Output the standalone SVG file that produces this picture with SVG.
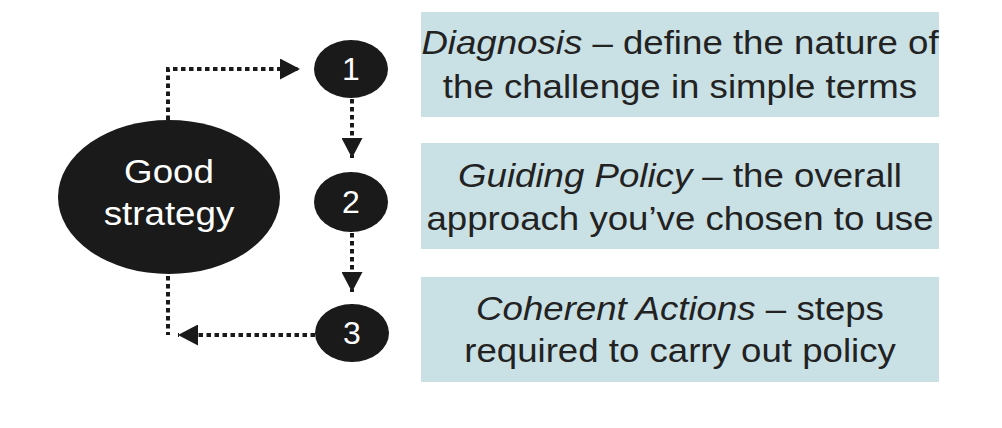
<svg xmlns="http://www.w3.org/2000/svg" width="1002" height="428" viewBox="0 0 1002 428">
<defs>
<marker id="ah" viewBox="0 0 20 21" refX="20" refY="10.5" markerWidth="20" markerHeight="21" markerUnits="userSpaceOnUse" orient="auto">
<path d="M0,0 L20,10.5 L0,21 Z" fill="#1a1a1a"/>
</marker>
<style>
.box{fill:#c9e0e4;}
.t{font-family:"Liberation Sans",Arial,sans-serif;font-size:33px;fill:#222;text-anchor:middle;}
.w{font-family:"Liberation Sans",Arial,sans-serif;font-size:34px;fill:#fff;text-anchor:middle;}
.num{font-family:"Liberation Sans",Arial,sans-serif;font-size:32px;fill:#fff;text-anchor:middle;}
.node{fill:#1a1a1a;}
.c{fill:none;stroke:#1a1a1a;stroke-width:4;stroke-dasharray:4.5 3.5;}
</style>
</defs>
<rect width="1002" height="428" fill="#fff"/>
<g id="connectors">
<path class="c" d="M168,120 V69 H300" marker-end="url(#ah)"/>
<path class="c" d="M352,99 V158" marker-end="url(#ah)"/>
<path class="c" d="M352,233 V292" marker-end="url(#ah)"/>
<path class="c" d="M168,276 V335"/>
<path class="c" d="M315,335 H178" marker-end="url(#ah)"/>
</g>
<g id="good">
<ellipse class="node" cx="169" cy="197" rx="111" ry="77"/>
<g transform="translate(169,0) scale(1.08,1)">
<text class="w" x="0" y="183">Good</text>
<text class="w" x="0" y="225">strategy</text>
</g>
</g>
<g id="n1">
<ellipse class="node" cx="351" cy="69" rx="37" ry="29"/>
<text class="num" x="351" y="80">1</text>
</g>
<g id="n2">
<ellipse class="node" cx="351" cy="202" rx="37" ry="30"/>
<text class="num" x="351" y="213">2</text>
</g>
<g id="n3">
<ellipse class="node" cx="352" cy="333" rx="37" ry="29"/>
<text class="num" x="352" y="344">3</text>
</g>
<g id="b1">
<rect class="box" x="421" y="12" width="518" height="105"/>
<g transform="translate(680,0) scale(1.11,1)">
<text class="t" x="0" y="54"><tspan font-style="italic">Diagnosis</tspan> – define the nature of</text>
<text class="t" x="0" y="98">the challenge in simple terms</text>
</g>
</g>
<g id="b2">
<rect class="box" x="421" y="143" width="518" height="106"/>
<g transform="translate(680,0) scale(1.11,1)">
<text class="t" x="0" y="187"><tspan font-style="italic">Guiding Policy</tspan> – the overall</text>
<text class="t" x="0" y="230">approach you’ve chosen to use</text>
</g>
</g>
<g id="b3">
<rect class="box" x="421" y="277" width="518" height="105"/>
<g transform="translate(680,0) scale(1.11,1)">
<text class="t" x="0" y="320"><tspan font-style="italic">Coherent Actions</tspan> – steps</text>
<text class="t" x="0" y="362">required to carry out policy</text>
</g>
</g>
</svg>
